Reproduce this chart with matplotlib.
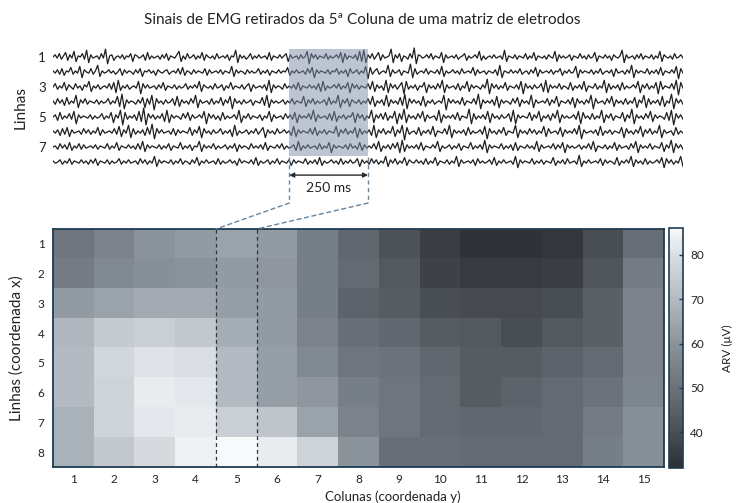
import numpy as np
import matplotlib
matplotlib.use('Agg')
import matplotlib.pyplot as plt
from matplotlib.colors import LinearSegmentedColormap, Normalize
from matplotlib.patches import Rectangle, ConnectionPatch

plt.rcParams['font.family'] = ['Lato', 'DejaVu Sans']

# ---------------- data ----------------
title = "Sinais de EMG retirados da 5ª Coluna de uma matriz de eletrodos"
top_row_ticks = [1, 3, 5, 7]
top_row_labels = ["1", "3", "5", "7"]
duration_ms = 2000
window_start_ms = 750
window_len_ms = 250
window_label = "250 ms"

emg_row1 = [0,2,-1,3,-2,1,4,-3,2,-1,5,-4,1,0,3,-2,6,-5,2,-1,0,1,-2,3,-1,7,-6,1,2,-3,0,1,-1,2,-2,1,0,3,-4,2,1,-1,0,2,-3,4,-2,1,-1,0,1,-2,2,-1,3,-3,1,0,-1,2,5,-4,1,-2,3,-1,0,2,-2,1,-1,4,-3,2,0,-1,1,-2,3,-1,0,1,-1,2,-3,1,0,6,-5,2,-1,1,-2,0,3,-2,1,-1,2,-1,0,1,-2,4,-3,1,0,-1,2,-1,1,3,-4,2,-1,0,1,-2,2,-1,0,5,-6,3,-1,2,-2,1,0,-1,3,-2,1,-1,0,2,-1,4,-5,3,-2,1,0,-1,2,-3,5,-4,6,-5,2,-1,3,-2,1,4,-3,2,-1,0,1,7,-5,2,-1,3,-4,1,0,-2,3,-1,8,-6,2,
            1,-1,0,2,-1,3,-2,1,0,-1,4,-5,2,-1,0,1,-1,2,-2,0,1,3,-3,1,-1,0,2,-1,5,-3,1,-2,0,1,-1,2,-1,0,1,-2,6,-4,1,0,-1,2,-2,1,0,-1,3,-2,1,-1,4,-3,1,0,-1,1,-2,2,0,-1,5,-4,2,-1,1,-1,0,2,-3,1,0,-1,3,-1,1,-2,2,-1,0,4,-4,1,0,-1,2,-1,1,-3,2,0,-1,1,6,-5,2,-1,0,1,-2,2,-1,3,-2,1,0,-1,2,-2,1,-1,5,-4,2,0,-1,1,-2,3,-1,0,2,-1]
emg_row2 = [1,-1,2,-2,3,-3,1,0,4,-2,1,-1,5,-5,2,0,-1,3,-2,1,6,-4,1,-1,0,2,-1,1,-2,0,3,-3,2,-1,1,0,-2,2,-1,3,-4,1,0,2,-1,1,-3,2,0,-1,1,2,-2,0,1,-1,3,-2,4,-3,1,0,-2,2,-1,1,0,-1,3,-3,2,-1,0,1,-1,2,-2,1,0,-1,5,-4,2,-1,1,0,-2,2,-1,1,-1,0,3,-2,1,-1,2,-3,1,0,-1,2,-1,1,0,4,-3,1,-1,2,-1,0,1,-2,3,-1,4,-5,2,-1,1,0,-1,2,-2,1,0,3,-2,1,-1,2,-4,3,-1,0,2,-2,1,-1,5,-6,4,-2,1,3,-2,0,1,-1,6,-4,2,-1,0,2,-3,1,0,-1,7,-5,3,-2,
            0,1,-1,3,-2,1,0,-1,2,-2,5,-4,1,-1,0,2,-1,1,-2,3,-1,0,1,-1,4,-3,2,-1,0,1,-2,1,0,-1,2,-3,6,-5,1,0,-1,2,-1,1,-1,3,-2,0,1,-2,2,-1,4,-4,2,-1,0,1,-1,2,-2,1,0,3,-3,1,-1,2,-1,0,5,-5,2,-1,1,0,-1,2,-2,1,-1,3,-2,0,1,-1,2,-4,3,-1,0,1,-2,2,-1,6,-5,2,-1,1,0,-1,3,-2,1,-1,2,-2,4,-3,1,0,-1,2,-1,5,-6,3,-1]
emg_row3 = [0,3,-2,1,-1,4,-3,2,0,-2,3,-1,1,-3,2,0,5,-4,1,-1,2,-2,0,1,-1,3,-2,4,-5,6,-3,1,-1,2,-2,0,1,-1,5,-6,3,-1,2,-1,0,1,-2,2,-1,4,-3,1,0,-1,2,-2,1,-1,0,3,-2,1,-1,2,-1,5,-4,2,0,-1,1,-2,3,-1,0,2,-3,1,-1,4,-2,1,0,-1,2,-2,1,3,-4,2,-1,0,1,-1,2,-3,6,-5,2,-1,1,0,-2,3,-1,1,-1,2,-2,4,-3,1,0,-1,2,-1,1,-2,3,-4,5,-3,1,-1,0,2,-1,3,-2,1,-1,4,-5,3,-1,2,-2,1,0,-1,3,-2,5,-4,2,-1,1,-3,6,-5,3,-1,2,-2,1,4,-6,5,-2,1,
            -1,2,-3,1,0,4,-5,2,-1,1,-2,3,-1,6,-5,2,-1,0,1,-2,3,-3,1,-1,5,-4,2,-1,1,0,-2,2,-1,7,-6,3,-1,2,-2,1,-1,4,-3,1,0,-1,2,-2,5,-6,3,-1,1,-2,2,-1,0,3,-4,6,-5,2,-1,1,-1,3,-2,1,0,-2,4,-3,1,-1,2,-2,5,-4,1,0,-1,3,-2,1,-1,6,-5,3,-2,1,-1,2,-3,4,-2,1,-1,0,2,-1,5,-5,2,-1,3,-2,1,-1,4,-6,5,-2,1,0,-1,3,-2,6,-7,4,-1]
emg_row4 = [1,-2,3,-1,2,-3,4,-2,1,-1,6,-5,2,-1,3,-2,1,0,-1,2,-2,1,-1,0,3,-2,1,-1,5,-4,7,-6,2,-1,1,0,-2,2,-1,4,-5,3,-2,6,-7,3,-1,1,-2,2,-1,0,3,-3,5,-4,2,-1,1,-2,3,-1,6,-5,2,-1,0,1,-2,3,-2,1,-1,4,-3,2,-1,5,-6,3,-1,1,-2,2,-1,0,2,-3,1,0,-1,4,-3,6,-5,2,-1,1,-1,0,2,-2,1,-1,3,-2,1,0,-1,5,-4,2,-1,3,-2,1,-1,0,2,-3,4,-2,1,-1,6,-5,2,-1,3,-4,2,0,-1,2,-2,1,-1,3,-2,5,-4,1,-1,2,-3,6,-4,2,-1,1,-2,4,-3,7,-6,3,-1,
            2,-1,1,-3,5,-4,1,-1,2,-2,0,1,-1,6,-7,3,-1,2,-1,1,-2,4,-3,1,0,-1,3,-2,7,-6,2,-1,1,-1,2,-3,5,-5,2,-1,1,0,-2,3,-1,4,-4,2,-1,1,-2,6,-5,2,-1,0,1,-1,3,-3,2,-1,5,-4,1,0,-1,2,-2,4,-5,3,-1,1,-2,2,-1,6,-6,3,-1,0,1,-2,3,-1,5,-4,2,-1,1,-2,3,-2,1,-1,4,-5,2,-1,6,-5,3,-2,1,-1,2,-3,5,-4,1,-1,7,-6,3,-1,2,-2]
emg_row5 = [0,2,-3,4,-2,1,-1,3,-2,5,-6,2,-1,1,0,-1,2,-2,1,-1,0,3,-2,1,-1,4,-5,2,-1,6,-7,4,-2,1,-1,2,-3,5,-4,8,-7,3,-1,2,-2,1,-1,3,-4,6,-5,2,-1,1,0,-2,3,-1,4,-3,2,-1,0,2,-1,5,-6,3,-1,2,-2,1,-3,4,-2,1,-1,0,2,-2,6,-5,1,-1,3,-2,1,0,-1,2,-3,1,-1,5,-4,2,-1,0,1,-2,3,-1,2,-2,4,-5,2,-1,1,-1,3,-2,6,-4,2,-1,0,1,-2,3,-3,5,-4,1,-1,2,-2,1,0,4,-5,3,-1,2,-3,1,-1,6,-5,2,-1,3,-2,4,-3,1,-1,5,-6,3,-2,7,-5,2,-1,
            1,-2,3,-1,5,-4,2,-1,0,1,-3,6,-5,2,-1,1,-1,2,-2,4,-3,1,0,-1,7,-6,3,-2,1,-1,2,-2,5,-5,3,-1,1,-2,2,-1,0,3,-4,6,-6,2,-1,1,0,-1,4,-3,2,-1,5,-4,1,-1,2,-3,3,-1,6,-5,2,-1,1,-1,0,2,-2,5,-6,4,-1,1,-2,3,-2,1,-1,6,-5,2,-1,3,-3,1,0,-1,4,-4,2,-1,7,-6,2,-1,1,-2,3,-1,5,-4,2,-1,1,0,-2,4,-3,6,-7,3,-1,2,-2]
emg_row6 = [1,-1,2,-3,3,-2,4,-4,2,-1,0,1,-2,3,-1,2,-2,1,-1,4,-3,2,-1,0,1,-1,3,-2,5,-4,2,-1,6,-5,3,-2,1,-1,2,-3,4,-2,7,-6,3,-1,2,-1,0,1,-2,3,-3,2,-1,1,0,-1,4,-3,2,-1,5,-5,3,-1,1,-2,2,-1,0,3,-2,1,-1,2,-4,6,-3,1,-1,0,2,-2,1,-1,3,-2,1,4,-5,2,-1,1,-2,3,-1,0,2,-1,1,-3,5,-4,2,-1,1,0,-1,3,-2,4,-3,1,-1,2,-2,1,0,-1,5,-4,2,-1,3,-2,1,-1,4,-5,3,-2,1,-1,2,-3,6,-5,2,-1,3,-2,1,-1,5,-4,2,-1,6,-7,4,-2,
            0,1,-2,4,-3,1,-1,2,-2,5,-4,1,0,-1,3,-2,6,-5,2,-1,1,-1,2,-3,4,-2,1,-1,0,2,-2,5,-6,3,-1,1,-2,2,-1,4,-3,1,0,-1,6,-5,2,-1,1,-2,3,-1,2,-2,1,-1,5,-4,3,-1,0,1,-2,4,-4,2,-1,1,-1,3,-2,6,-6,2,-1,0,1,-1,2,-3,5,-3,1,-1,2,-2,1,0,-1,4,-5,3,-1,1,-2,2,-1,5,-4,2,-1,3,-2,1,-1,6,-5,2,-1,0,1,-3,4,-2,1,-1]
emg_row7 = [0,1,-2,3,-1,2,-2,4,-3,1,-1,3,-2,2,-1,0,1,-1,2,-2,1,0,-1,3,-2,1,-1,4,-3,1,0,-1,2,-1,1,-2,3,-2,5,-4,2,-1,1,0,-1,2,-2,1,-1,3,-3,1,0,-1,4,-2,1,-1,2,-3,1,0,5,-4,2,-1,1,-1,3,-2,1,-1,0,2,-2,1,-1,3,-4,2,-1,1,0,-2,3,-1,1,-1,2,-2,4,-3,1,0,-1,2,-1,3,-2,1,-1,0,2,-3,5,-3,1,-1,2,-1,0,1,-2,3,-2,1,-1,4,-5,2,-1,1,0,-1,2,-2,3,-1,1,-2,4,-3,2,-1,1,-1,3,-2,5,-4,1,-1,2,-2,3,-1,4,-5,6,-4,2,-1,
            1,-1,2,-2,4,-3,1,0,-1,2,-1,5,-4,1,-1,0,2,-2,1,-1,3,-3,1,0,-1,4,-2,1,-1,2,-2,6,-5,2,-1,1,0,-1,3,-2,1,-1,2,-3,4,-3,1,0,-1,2,-1,1,-2,5,-4,2,-1,0,1,-1,3,-2,2,-1,4,-5,2,-1,1,-1,0,2,-2,1,-1,3,-2,5,-4,1,0,-1,2,-2,1,-1,4,-3,2,-1,0,1,-2,3,-1,5,-5,2,-1,1,-1,3,-2,1,0,-1,4,-4,2,-1,6,-5,3,-1,2,-2]
emg_row8 = [1,-1,0,2,-2,1,-1,3,-2,1,0,-1,2,-1,1,-2,2,-1,3,-3,1,0,-1,2,-2,1,-1,0,3,-2,1,-1,2,-1,0,1,-2,3,-1,2,-2,1,-1,5,-4,2,-1,1,0,-1,2,-2,1,-1,3,-2,1,0,-2,2,-1,4,-3,1,-1,2,-1,0,1,-2,3,-2,1,-1,0,2,-1,1,-3,3,-1,1,0,-1,2,-2,4,-3,1,-1,0,2,-2,1,-1,3,-2,1,0,-1,2,-3,2,-1,1,0,-1,3,-2,1,-1,2,-2,4,-3,1,-1,0,2,-1,1,-2,3,-2,1,-1,2,-1,0,3,-4,2,-1,1,-2,3,-1,2,-2,1,-1,5,-4,2,-1,3,-2,1,-1,4,-3,2,
            0,-1,2,-1,1,-2,3,-2,1,-1,4,-3,1,0,-1,2,-2,1,-1,5,-4,2,-1,0,1,-1,2,-3,3,-1,1,-1,0,2,-2,4,-3,1,-1,2,-1,0,1,-2,5,-5,2,-1,1,0,-1,3,-2,1,-1,2,-2,1,0,-1,4,-3,1,-1,2,-2,3,-1,0,1,-2,6,-4,1,-1,2,-1,0,1,-1,3,-3,2,-1,1,0,-2,4,-3,1,-1,2,-1,5,-4,2,-1,1,-2,3,-2,1,-1,0,2,-1,4,-5,3,-1,2,-2,1,-1,5,-4]
emg_rows = [emg_row1, emg_row2, emg_row3, emg_row4, emg_row5, emg_row6, emg_row7, emg_row8]

heat_rows = ["1", "2", "3", "4", "5", "6", "7", "8"]
heat_cols = [str(c) for c in range(1, 16)]
arv_values = [
    [51, 55, 60, 62, 64, 62, 54, 47, 41, 36, 33, 33, 34, 40, 49],
    [53, 57, 59, 60, 62, 61, 54, 48, 43, 37, 35, 35, 36, 42, 53],
    [62, 64, 66, 66, 63, 62, 54, 46, 44, 40, 39, 39, 40, 45, 55],
    [69, 75, 76, 74, 67, 62, 55, 49, 47, 44, 43, 40, 43, 45, 55],
    [70, 78, 81, 80, 70, 63, 57, 51, 50, 47, 44, 44, 46, 48, 55],
    [70, 77, 83, 82, 70, 63, 61, 54, 51, 48, 44, 46, 48, 50, 56],
    [68, 77, 82, 83, 76, 73, 64, 55, 51, 48, 47, 47, 48, 53, 59],
    [68, 74, 79, 84, 86, 83, 77, 60, 49, 49, 48, 48, 48, 54, 59],
]
cbar_ticks = [40, 50, 60, 70, 80]
vmin, vmax = 32, 86
cmap_levels = [32, 40, 50, 60, 70, 80, 86]
cmap_colors = ['#2c2f33', '#4a4f54', '#6b7279', '#8b939b', '#b3bac1', '#dadee3', '#f8f9fa']

# ---------------- figure ----------------
W, H = 738, 503
fig = plt.figure(figsize=(W / 100, H / 100), dpi=100)

def rect(l, t, r, b):
    return [l / W, 1 - b / H, (r - l) / W, (b - t) / H]

# ---- top panel: EMG traces ----
ax1 = fig.add_axes(rect(53, 45, 683, 170))
amp = 0.075
for i, sig in enumerate(emg_rows):
    t = np.linspace(0, duration_ms, len(sig))
    ax1.plot(t, (i + 1) - amp * np.array(sig), color='#1c1e20', lw=0.9, zorder=2)
ax1.set_xlim(0, duration_ms)
ax1.set_ylim(8.53, 0.2)
ax1.set_yticks(top_row_ticks)
ax1.set_yticklabels(top_row_labels, fontsize=9.5, color='#222')
ax1.tick_params(axis='y', length=0, pad=5)
ax1.set_xticks([])
for s in ax1.spines.values():
    s.set_visible(False)
ax1.set_ylabel("Linhas", fontsize=11, color='#222', labelpad=8)

ax1.add_patch(Rectangle((window_start_ms, 0.47), window_len_ms, 7.13,
                        facecolor='#7e8ca6', alpha=0.5, edgecolor='none', zorder=3))

# arrow and label
ya = 8.87
ax1.annotate('', xy=(window_start_ms, ya), xytext=(window_start_ms + window_len_ms, ya),
             arrowprops=dict(arrowstyle='<|-|>', color='#2a2d30', lw=1.0,
                             mutation_scale=7, shrinkA=0, shrinkB=0),
             annotation_clip=False)
ax1.text(window_start_ms + window_len_ms / 2, 9.75, window_label, ha='center', va='center',
         fontsize=10, color='#222', clip_on=False)

dash_col = '#6686a0'
ybot = 10.73
for xv in (window_start_ms, window_start_ms + window_len_ms):
    ax1.plot([xv, xv], [7.65, ybot], ls=(0, (3, 2.5)), color=dash_col, lw=1.0, clip_on=False)

# ---- heatmap ----
ax2 = fig.add_axes(rect(53, 229, 664, 467))
cmap = LinearSegmentedColormap.from_list(
    'arv', [((v - vmin) / (vmax - vmin), c) for v, c in zip(cmap_levels, cmap_colors)])
norm = Normalize(vmin=vmin, vmax=vmax)
arr = np.array(arv_values, dtype=float)
im = ax2.imshow(arr, cmap=cmap, norm=norm, aspect='auto', interpolation='nearest',
                extent=(0.5, len(heat_cols) + 0.5, len(heat_rows) + 0.5, 0.5))
ax2.set_xticks(range(1, len(heat_cols) + 1))
ax2.set_xticklabels(heat_cols, fontsize=8.5, color='#222')
ax2.set_yticks(range(1, len(heat_rows) + 1))
ax2.set_yticklabels(heat_rows, fontsize=8.5, color='#222')
ax2.tick_params(length=0, pad=6)
ax2.tick_params(axis='x', pad=5)
for s in ax2.spines.values():
    s.set_color('#1e3c52')
    s.set_linewidth(1.3)
ax2.set_ylabel("Linhas (coordenada x)", fontsize=11, color='#222', labelpad=10)

for xv in (4.5, 5.5):
    ax2.axvline(xv, color='#2a3540', ls=(0, (3, 2.5)), lw=0.9)

# connection dashed lines
for x_top, x_heat in ((window_start_ms, 4.5), (window_start_ms + window_len_ms, 5.5)):
    con = ConnectionPatch(xyA=(x_top, ybot), coordsA=ax1.transData,
                          xyB=(x_heat, 0.5), coordsB=ax2.transData,
                          color=dash_col, ls=(0, (3, 2.5)), lw=1.0)
    fig.add_artist(con)

fig.text(393 / W, 1 - 501 / H, "Colunas (coordenada y)", ha='center', va='baseline',
         fontsize=9.5, color='#222')

# ---- colorbar ----
cax = fig.add_axes(rect(669, 228, 683, 468))
cb = fig.colorbar(im, cax=cax, ticks=cbar_ticks)
cb.outline.set_edgecolor('#1e3c52')
cb.outline.set_linewidth(1.2)
cax.tick_params(direction='in', length=3, width=1, color='#1e3c52', labelsize=8.5,
                labelcolor='#222', pad=5)
cb.set_label("ARV (μV)", fontsize=8.5, color='#222', labelpad=13)

fig.text(362 / W, 1 - 20 / H, title, ha='center', va='center', fontsize=11, color='#222')

fig.savefig('out.png', dpi=100)
